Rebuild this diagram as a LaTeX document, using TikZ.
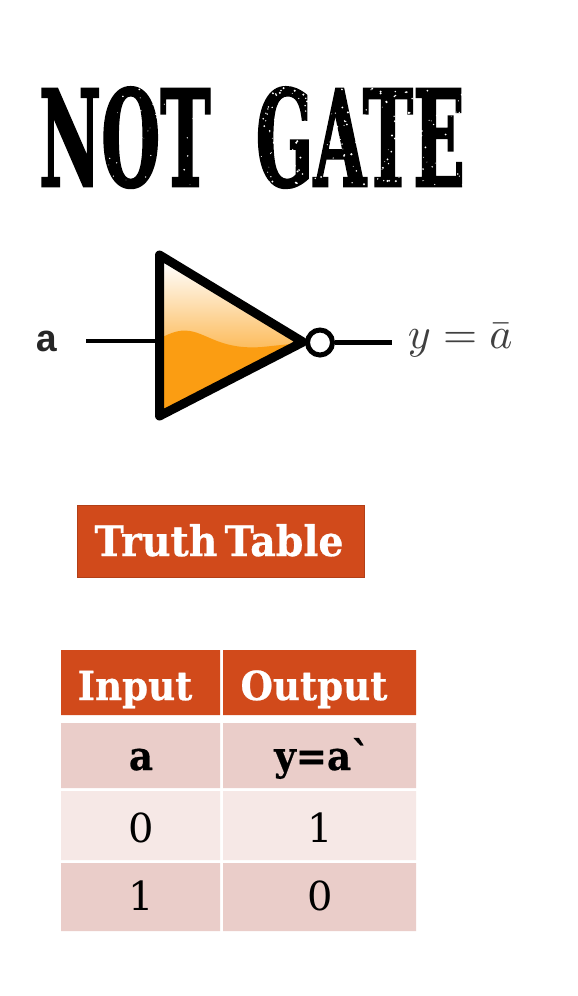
\documentclass[tikz,border=0pt]{standalone}
\usepackage{fontspec}
\setmainfont[Ligatures=ResetAll]{DejaVu Serif}
\newfontfamily\titlefam[Ligatures=ResetAll,UprightFont=* Bold,FakeBold=2]{DejaVu Serif}
\newfontfamily\heavyfam[Ligatures=ResetAll,UprightFont=* Bold,FakeBold=0.6]{DejaVu Serif}
\newfontfamily\monofam{Liberation Mono}
\definecolor{rust}{HTML}{D14A1B}
\definecolor{rowdark}{HTML}{EACDC9}
\definecolor{rowlight}{HTML}{F6E8E6}
\definecolor{gateorange}{HTML}{FB9D12}
\tikzset{
  wire/.style={line width=4.5pt,black},
  boldtxt/.style={anchor=base,inner sep=0pt,xscale=0.93,font=\heavyfam\fontsize{40}{40}\selectfont},
  plaintxt/.style={anchor=base,inner sep=0pt,font=\fontsize{40}{40}\selectfont},
}
\begin{document}
\begin{tikzpicture}[x=1pt,y=-1pt]
\useasboundingbox (0,0) rectangle (578,996);
\fill[white] (0,0) rectangle (578,996);
% title
\node[inner sep=0pt,anchor=base,font=\titlefam\fontsize{133}{133}\selectfont,xscale=0.51,text=black] (title) at (252,186) {NOT\hspace{42pt} GATE};
% worn print texture of the title
\pgfmathsetseed{42}
\foreach \i in {1,...,260}{
  \pgfmathsetmacro{\sx}{254+212*rnd}
  \pgfmathsetmacro{\sy}{88+98*rnd}
  \pgfmathsetmacro{\sr}{0.4+0.8*rnd}
  \fill[white] (\sx,\sy) circle[radius=\sr pt];
}
\foreach \i in {1,...,50}{
  \pgfmathsetmacro{\sx}{100+105*rnd}
  \pgfmathsetmacro{\sy}{88+98*rnd}
  \pgfmathsetmacro{\sr}{0.3+0.6*rnd}
  \fill[white] (\sx,\sy) circle[radius=\sr pt];
}
% gate
\coordinate (tl) at (159.5,255);
\coordinate (bl) at (159.5,416);
\coordinate (ap) at (303,342);
\begin{scope}
  \clip (tl) -- (ap) -- (bl) -- cycle;
  \shade[top color=white,bottom color=gateorange!70!white] (150,262) rectangle (310,350);
  \fill[gateorange] (155,341) .. controls (168,334) and (178,329) .. (190,331)
     .. controls (208,334) and (222,350) .. (262,347) -- (310,342) -- (310,425) -- (155,425) -- cycle;
\end{scope}
\draw[line width=9pt,line join=round,black] (tl) -- (ap) -- (bl) -- cycle;
\node[circle,draw=black,line width=5pt,fill=white,minimum size=25pt,inner sep=0pt] (bub) at (320,342.5) {};
\coordinate (inend) at (86,341);
\coordinate (outend) at (392,342.5);
\coordinate (inj) at (159,341);
\draw[wire] (inend) -- (inj);
\draw[wire] (bub.east) -- (outend);
\node[font=\monofam\bfseries\fontsize{38}{38}\selectfont,text=black!85,anchor=base,inner sep=0pt] (lbla) at (47,351) {a};
\node[scale=4.38,text=black!75,anchor=base west,inner sep=0pt] (lbly) at (407,348) {$y=\bar a$};
% truth table label
\node[draw=rust!85!black,line width=0.8pt,fill=rust,minimum width=287pt,minimum height=72pt,inner sep=0pt] (tt) at (220.5,541) {};
\node[anchor=base,inner sep=0pt,xscale=0.94,text=white,font=\heavyfam\fontsize{42}{42}\selectfont] (ttl) at (219,556) {Truth\hspace{-7pt} Table};
% table
\fill[rust] (61,650) rectangle (220,715) (223,650) rectangle (416,715);
\fill[rowdark] (61,723) rectangle (220,788) (223,723) rectangle (416,788);
\fill[rowlight] (61,791) rectangle (220,860) (223,791) rectangle (416,860);
\fill[rowdark] (61,863) rectangle (220,931) (223,863) rectangle (416,931);
\node[text=white,boldtxt] (h1) at (135,700) {Input};
\node[text=white,boldtxt] (h2) at (314,700) {Output};
\node[boldtxt] (a1) at (141,770) {a};
\node[boldtxt] (a2) at (322,770) {y=a`};
\node[plaintxt] (b1) at (141,842) {0};
\node[plaintxt] (b2) at (320,842) {1};
\node[plaintxt] (c1) at (141,910) {1};
\node[plaintxt] (c2) at (320,910) {0};
\end{tikzpicture}
\end{document}
